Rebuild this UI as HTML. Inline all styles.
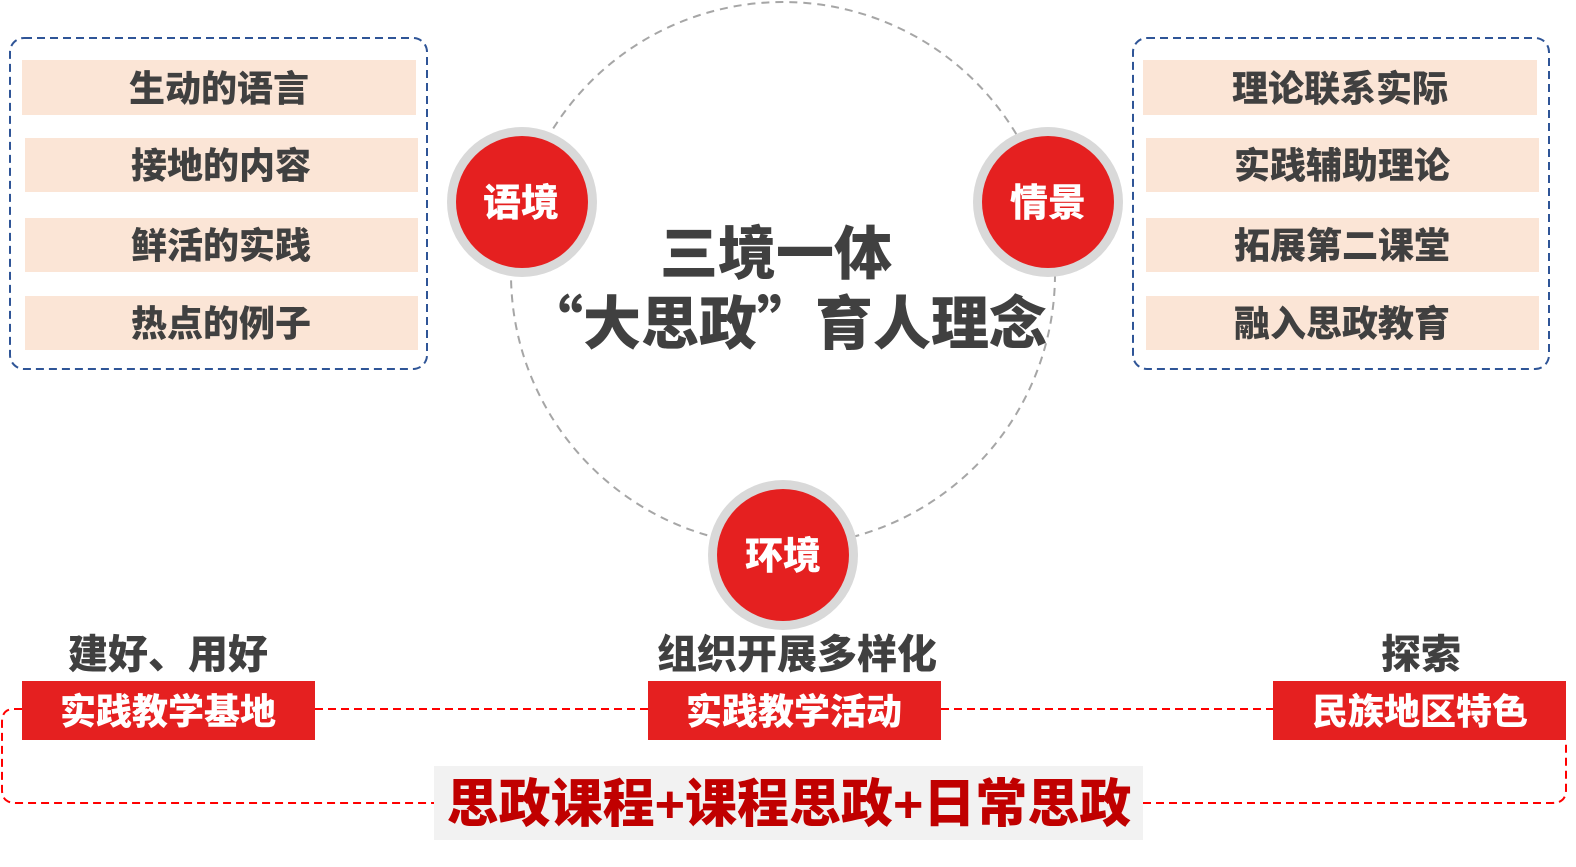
<!DOCTYPE html>
<html><head><meta charset="utf-8"><style>
html,body{margin:0;padding:0;background:#fff;}
svg{display:block;}
text{font-family:"Liberation Sans","Noto Sans CJK SC",sans-serif;font-weight:900;}
.q{font-family:"Noto Sans CJK SC",sans-serif;}
</style></head><body>
<svg width="1576" height="867" viewBox="0 0 1576 867" xmlns="http://www.w3.org/2000/svg">
<circle cx="783" cy="274" r="272" fill="none" stroke="#a6a6a6" stroke-width="2" stroke-dasharray="8,6"/>
<rect x="10" y="38" width="417" height="331" rx="14" fill="none" stroke="#2f5597" stroke-width="2" stroke-dasharray="8,5"/>
<rect x="22" y="60" width="394" height="55" fill="#fbe5d6"/>
<rect x="25" y="138" width="393" height="54" fill="#fbe5d6"/>
<rect x="25" y="218" width="393" height="54" fill="#fbe5d6"/>
<rect x="25" y="296" width="393" height="54" fill="#fbe5d6"/>
<g fill="#404040" font-size="36" text-anchor="middle">
<text x="219" y="101">生动的语言</text>
<text x="221" y="178">接地的内容</text>
<text x="221" y="258">鲜活的实践</text>
<text x="221" y="336">热点的例子</text>
</g>
<rect x="1133" y="38" width="416" height="331" rx="14" fill="none" stroke="#2f5597" stroke-width="2" stroke-dasharray="8,5"/>
<rect x="1143" y="60" width="394" height="55" fill="#fbe5d6"/>
<rect x="1146" y="138" width="393" height="54" fill="#fbe5d6"/>
<rect x="1146" y="218" width="393" height="54" fill="#fbe5d6"/>
<rect x="1146" y="296" width="393" height="54" fill="#fbe5d6"/>
<g fill="#404040" font-size="36" text-anchor="middle">
<text x="1340" y="101">理论联系实际</text>
<text x="1342" y="178">实践辅助理论</text>
<text x="1342" y="258">拓展第二课堂</text>
<text x="1342" y="336">融入思政教育</text>
</g>
<g>
<circle cx="522" cy="202" r="75" fill="#d9d9d9"/><circle cx="522" cy="202" r="66" fill="#e52020"/>
<circle cx="1048" cy="202" r="75" fill="#d9d9d9"/><circle cx="1048" cy="202" r="66" fill="#e52020"/>
<circle cx="783" cy="555" r="75" fill="#d9d9d9"/><circle cx="783" cy="555" r="66" fill="#e52020"/>
</g>
<g fill="#fff" font-size="38" text-anchor="middle">
<text x="521" y="216">语境</text>
<text x="1048" y="216">情景</text>
<text x="783" y="569">环境</text>
</g>
<g fill="#404040" font-size="58" text-anchor="middle">
<text x="776" y="274">三境一体</text>
<text x="786" y="344"><tspan class="q">“</tspan>大思政<tspan class="q">”</tspan>育人理念</text>
</g>
<path d="M22,709 L14,709 Q2,709 2,722 L2,790 Q2,803 16,803 L434,803 M1143,803 L1552,803 Q1566,803 1566,790 L1566,740" fill="none" stroke="#ff0000" stroke-width="2" stroke-dasharray="8,5"/>
<line x1="315" y1="709" x2="648" y2="709" stroke="#ff0000" stroke-width="2" stroke-dasharray="8,5"/>
<line x1="941" y1="709" x2="1273" y2="709" stroke="#ff0000" stroke-width="2" stroke-dasharray="8,5"/>
<g fill="#404040" font-size="40" text-anchor="middle">
<text x="168" y="668">建好、用好</text>
<text x="797" y="668">组织开展多样化</text>
<text x="1421" y="668">探索</text>
</g>
<rect x="22" y="681" width="293" height="59" fill="#e52020"/>
<rect x="648" y="681" width="293" height="59" fill="#e52020"/>
<rect x="1273" y="681" width="293" height="59" fill="#e52020"/>
<g fill="#fff" font-size="36" text-anchor="middle">
<text x="168" y="724">实践教学基地</text>
<text x="794" y="724">实践教学活动</text>
<text x="1420" y="724">民族地区特色</text>
</g>
<rect x="434" y="766" width="709" height="74" fill="#f2f2f2"/>
<text x="789" y="822" fill="#c00000" font-size="52" text-anchor="middle">思政课程+课程思政+日常思政</text>
</svg>
</body></html>
